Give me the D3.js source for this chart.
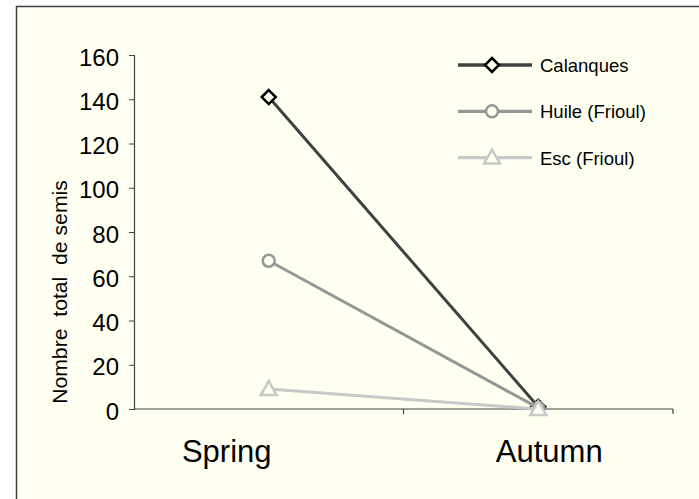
<!DOCTYPE html>
<html>
<head>
<meta charset="utf-8">
<script src="https://cdn.jsdelivr.net/npm/d3@7"></script>
<style>
  html, body { margin: 0; padding: 0; background: #ffffff; }
  svg { display: block; }
  text { font-family: "Liberation Sans", Arial, sans-serif; fill: #000; }
</style>
</head>
<body>
<svg id="chart" width="699" height="499"></svg>
<script>
// Seasons on the x axis
const seasons = ["Spring", "Autumn"];
// Total seedling counts per site
const calanques = [141, 1];
const huileFrioul = [67, 0.5];
const escFrioul = [9, 0];
const seriesNames = ["Calanques", "Huile (Frioul)", "Esc (Frioul)"];
const yTicks = [0, 20, 40, 60, 80, 100, 120, 140, 160];

const series = [
  { name: seriesNames[0], values: calanques, color: "#404040", marker: "diamond", markStroke: "#000000" },
  { name: seriesNames[1], values: huileFrioul, color: "#969696", marker: "circle", markStroke: "#969696" },
  { name: seriesNames[2], values: escFrioul, color: "#c8c8c8", marker: "triangle", markStroke: "#c8c8c8" }
];

const svg = d3.select("#chart");
const bg = "#fffff2";

// Chart area frame
svg.append("rect")
  .attr("x", 16.5).attr("y", 6.5)
  .attr("width", 700).attr("height", 520)
  .attr("fill", bg)
  .attr("stroke", "#404040").attr("stroke-width", 1.5);

const plot = { left: 134, right: 673, top: 55, bottom: 409 };

const x = d3.scaleBand().domain(seasons).range([plot.left, plot.right]).padding(0);
const y = d3.scaleLinear().domain([0, 160]).range([plot.bottom, plot.top]);

// Y axis
const yAxis = svg.append("g")
  .attr("transform", `translate(${plot.left},0)`)
  .call(d3.axisLeft(y).tickValues(yTicks).tickSize(5).tickPadding(10));
yAxis.select(".domain").attr("stroke", "#404040").attr("stroke-width", 1.2);
yAxis.selectAll(".tick line").attr("stroke", "#404040");
yAxis.selectAll(".tick text")
  .attr("dy", "0.42em")
  .style("font-family", "'Liberation Sans', Arial, sans-serif")
  .style("font-size", "24px").attr("fill", "#000");

// X axis line with ticks at category boundaries
const xg = svg.append("g").attr("transform", `translate(0,${plot.bottom})`);
xg.append("line")
  .attr("x1", plot.left).attr("x2", plot.right)
  .attr("stroke", "#404040").attr("stroke-width", 1.2);
const bounds = seasons.map(s => x(s)).concat([x(seasons[seasons.length - 1]) + x.bandwidth()]);
xg.selectAll("line.tk").data(bounds.slice(1)).enter().append("line")
  .attr("class", "tk")
  .attr("x1", d => d).attr("x2", d => d)
  .attr("y1", 0).attr("y2", 5)
  .attr("stroke", "#404040").attr("stroke-width", 1.2);

// Category labels
const labelShift = { Spring: -42, Autumn: 11 };
svg.selectAll("text.cat").data(seasons).enter().append("text")
  .attr("class", "cat")
  .attr("x", d => x(d) + x.bandwidth() / 2 + labelShift[d])
  .attr("y", 462)
  .attr("text-anchor", "middle")
  .style("font-size", "31px")
  .text(d => d);

// Y axis title
svg.append("text")
  .attr("transform", "translate(67,292) rotate(-90) scale(1.06,1)")
  .attr("text-anchor", "middle")
  .style("font-size", "20px")
  .style("white-space", "pre")
  .attr("xml:space", "preserve")
  .text("Nombre  total  de semis");

const cx = d => x(d) + x.bandwidth() / 2;

function drawMarker(g, type, px, py, stroke) {
  if (type === "diamond") {
    g.append("path")
      .attr("d", `M${px},${py - 7}L${px + 7},${py}L${px},${py + 7}L${px - 7},${py}Z`)
      .attr("fill", bg).attr("stroke", stroke).attr("stroke-width", 2.5);
  } else if (type === "circle") {
    g.append("circle").attr("cx", px).attr("cy", py).attr("r", 6)
      .attr("fill", bg).attr("stroke", stroke).attr("stroke-width", 2.5);
  } else {
    g.append("path")
      .attr("d", `M${px},${py - 8}L${px + 8},${py + 6}L${px - 8},${py + 6}Z`)
      .attr("fill", bg).attr("stroke", stroke).attr("stroke-width", 2.5);
  }
}

const line = d3.line().x((d, i) => cx(seasons[i])).y(d => y(d));

// Series drawn in order; later series sit on top where they meet
series.forEach(s => {
  const g = svg.append("g");
  g.append("path").datum(s.values)
    .attr("d", line)
    .attr("fill", "none")
    .attr("stroke", s.color).attr("stroke-width", 3);
  s.values.forEach((v, i) => drawMarker(g, s.marker, cx(seasons[i]), y(v), s.markStroke));
});

// Legend
const legend = svg.append("g");
series.forEach((s, i) => {
  const ly = 65 + i * 46.3;
  const lg = legend.append("g");
  lg.append("line").attr("x1", 458).attr("x2", 532).attr("y1", ly).attr("y2", ly)
    .attr("stroke", s.color).attr("stroke-width", 3.3);
  drawMarker(lg, s.marker, 492, ly, s.markStroke);
  lg.append("text").attr("x", 540).attr("y", ly + 7)
    .style("font-size", "18.5px").text(s.name);
});
</script>
</body>
</html>
